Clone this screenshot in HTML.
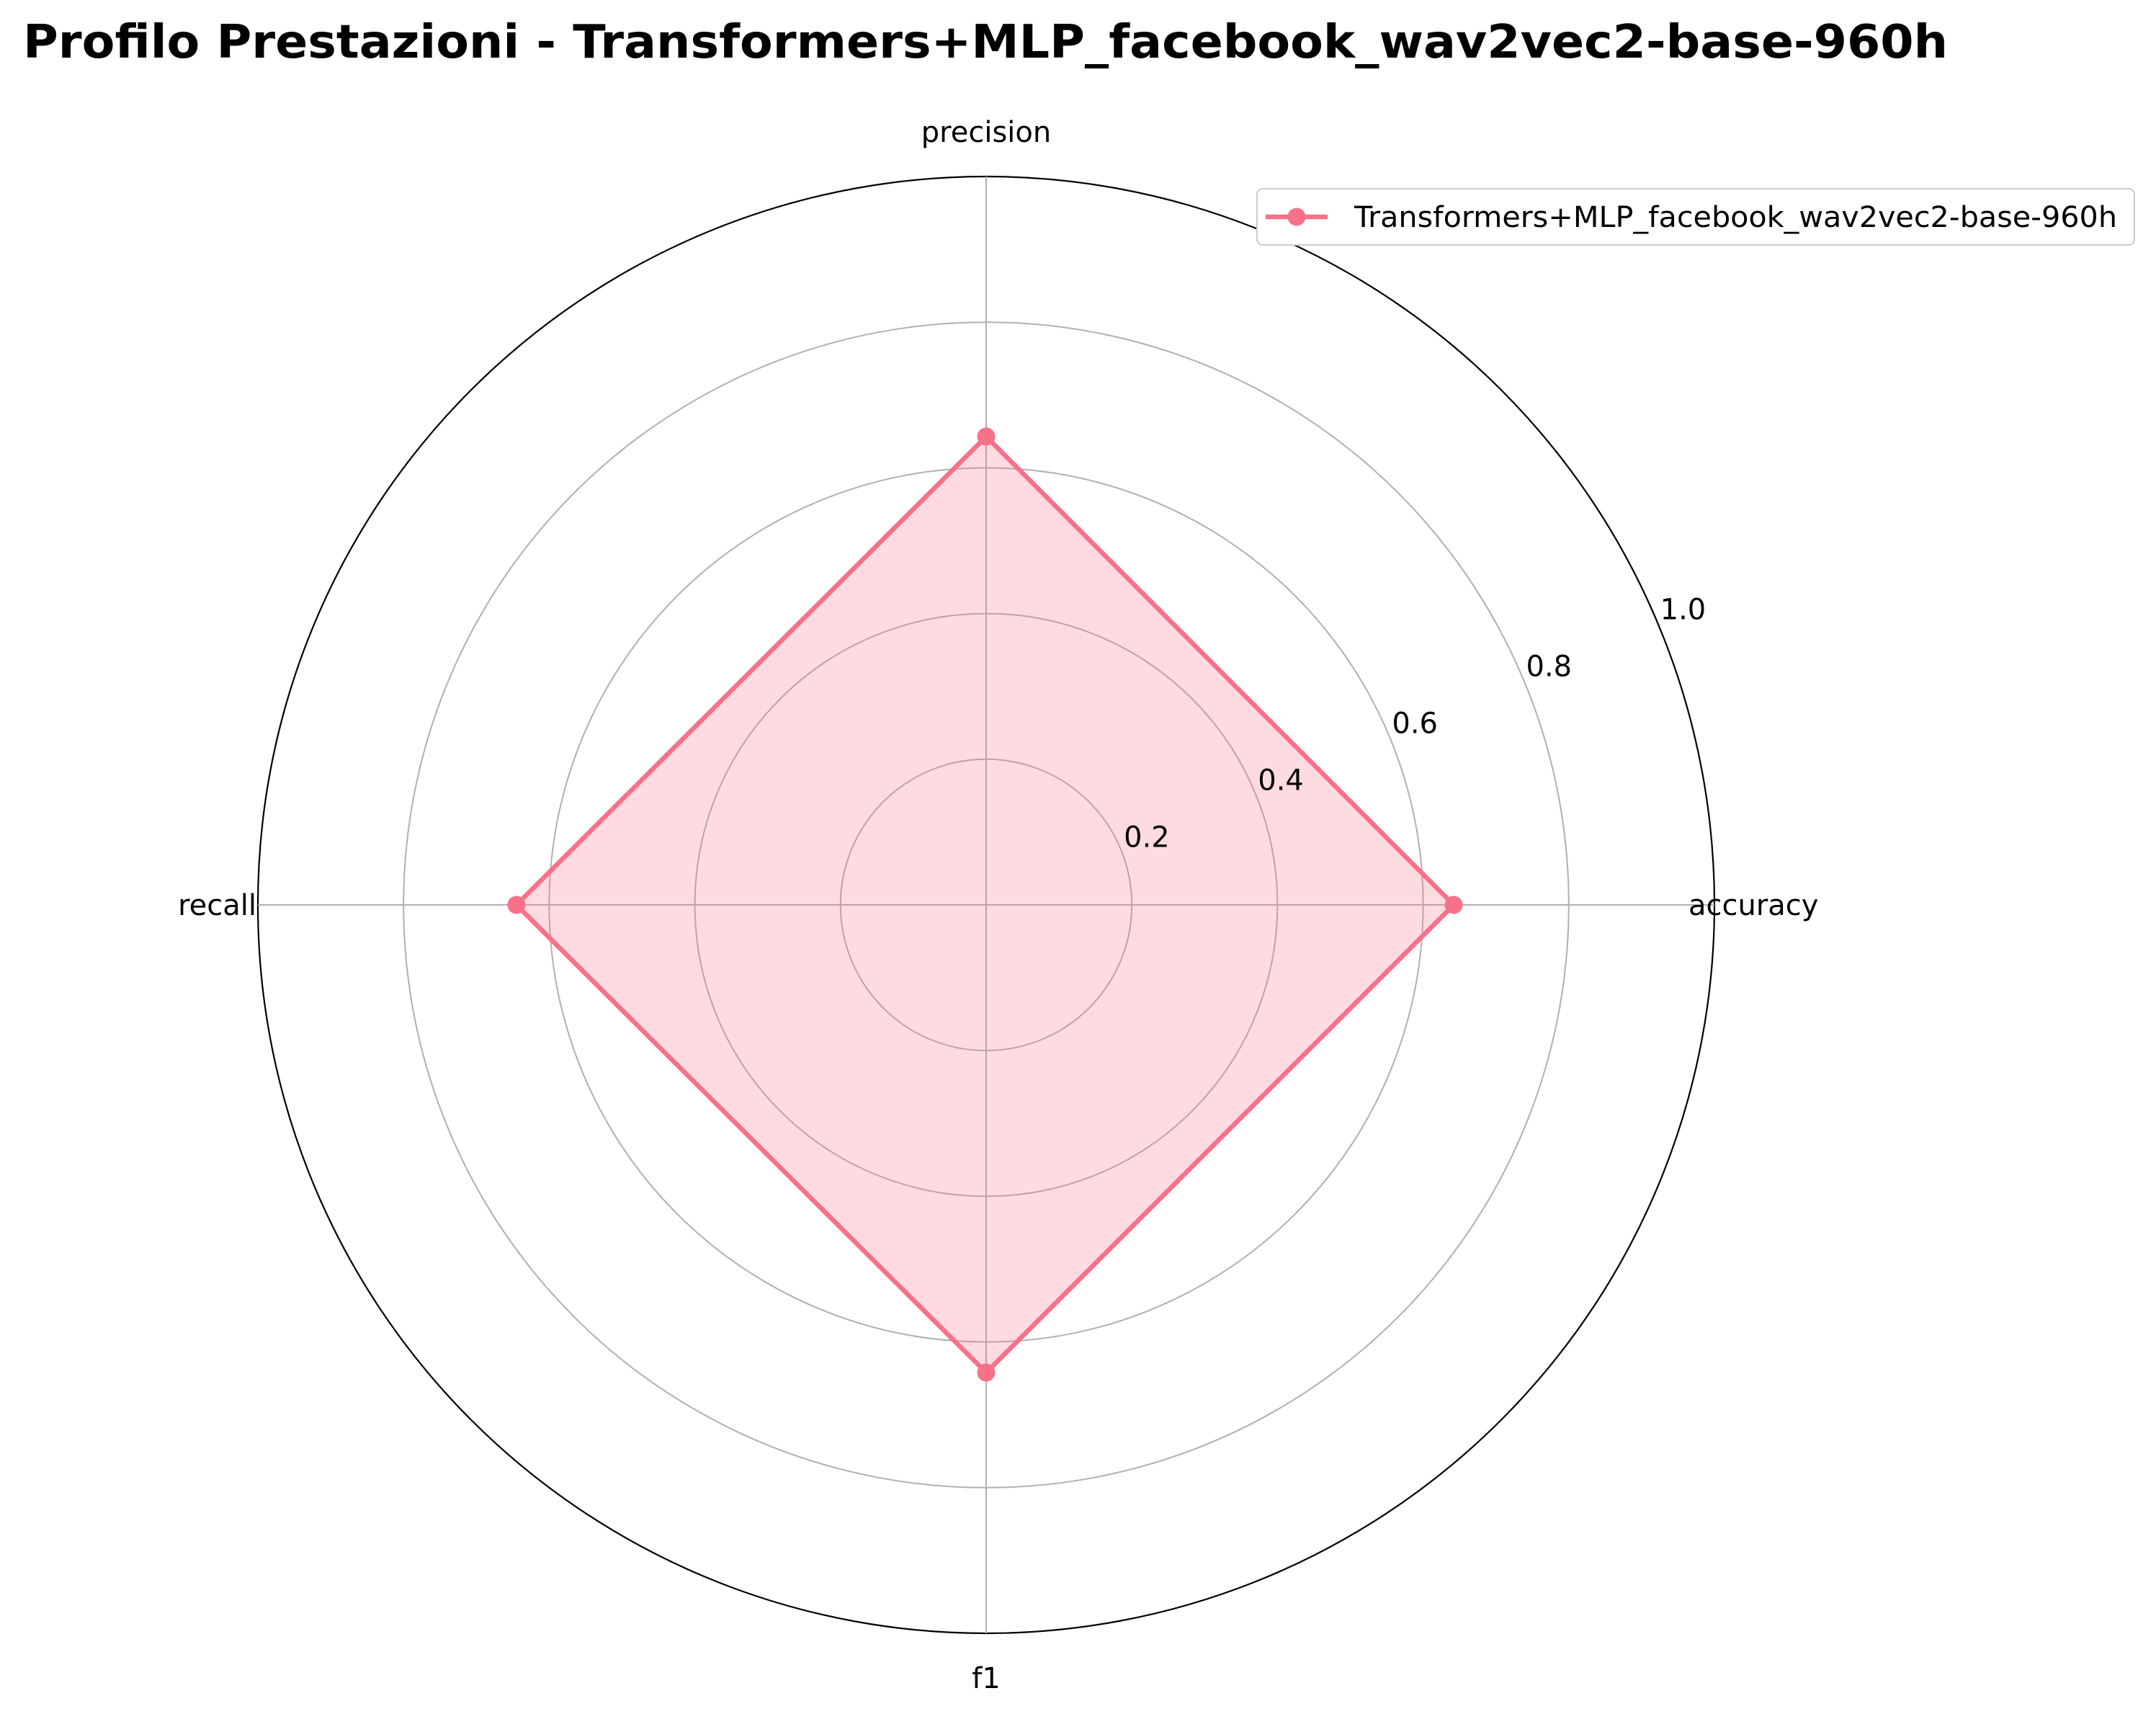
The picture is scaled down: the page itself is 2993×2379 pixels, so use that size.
<!DOCTYPE html>
<html><head><meta charset="utf-8"><style>
html,body{margin:0;padding:0;background:#fff;}
svg text{font-family:"DejaVu Sans","Liberation Sans",sans-serif;}
</style></head><body>
<svg id="chart" width="2993" height="2374" viewBox="0 0 2993 2374" xmlns="http://www.w3.org/2000/svg">
<rect width="2993" height="2374" fill="#fff"/>
<text x="32" y="80" font-size="64" font-weight="bold" fill="#000" textLength="2672" lengthAdjust="spacingAndGlyphs">Profilo Prestazioni - Transformers+MLP_facebook_wav2vec2-base-960h</text>
<g id="grid"></g>
<g id="series"></g>
<g id="labels"></g>
<g>
<rect x="1745" y="262" width="1218" height="78" rx="8" fill="#fff" stroke="#ccc" stroke-width="2"/>
<line x1="1757" y1="301" x2="1843" y2="301" stroke="#f77189" stroke-width="6.5"/>
<circle cx="1800" cy="301" r="12.5" fill="#f77189"/>
<text x="1880" y="315" font-size="40" fill="#000" textLength="1059" lengthAdjust="spacingAndGlyphs">Transformers+MLP_facebook_wav2vec2-base-960h</text>
</g>
</svg>
<script>
const categories=["accuracy","precision","recall","f1"];
const values=[0.642,0.643,0.645,0.642];
const ticks=[0.2,0.4,0.6,0.8,1.0];
const tickLabels=["0.2","0.4","0.6","0.8","1.0"];
const CX=1369,CY=1256,R=1011,NS="http://www.w3.org/2000/svg";
function ang(i){return i*2*Math.PI/categories.length;}
function px(v,a){return CX+v*R*Math.cos(a);}
function py(v,a){return CY-v*R*Math.sin(a);}
function mk(t,at,p){const e=document.createElementNS(NS,t);for(const k in at)e.setAttribute(k,at[k]);p.appendChild(e);return e;}
const g=document.getElementById('grid'),s=document.getElementById('series'),l=document.getElementById('labels');
ticks.forEach((t,i)=>{
 const c=mk('circle',{cx:CX,cy:CY,r:t*R,fill:'none',stroke:t===1?'#000':'#b0b0b0','stroke-width':t===1?2.2:2},g);
 
 
 const a=23*Math.PI/180,rr=t*R+40;
 const tx=mk('text',{x:CX+rr*Math.cos(a),y:CY-rr*Math.sin(a)+14,'font-size':40,'text-anchor':'middle',fill:'#000'},l);
 tx.textContent=tickLabels[i];
 
 
});
categories.forEach((c,i)=>{
 const a=ang(i);
 const ln=mk('line',{x1:CX,y1:CY,x2:px(1,a),y2:py(1,a),stroke:'#b0b0b0','stroke-width':2},g);
 
 
 const cs=Math.cos(a),sn=Math.sin(a);
 let x=px(1,a),y=py(1,a)+14,anc='middle';
 if(cs>0.5){x+=-36;anc='start';} else if(cs<-0.5){x+=-2;anc='end';}
 if(sn>0.5)y-=62; if(sn<-0.5)y+=62;
 const tx=mk('text',{x:x,y:y,'font-size':40,'text-anchor':anc,fill:'#000'},l);
 tx.textContent=c;
 
 
});
const pts=values.map((v,i)=>px(v,ang(i))+','+py(v,ang(i))).join(' ');
const poly=mk('polygon',{points:pts,fill:'#f77189','fill-opacity':0.25,stroke:'#f77189','stroke-width':6.5,'stroke-linejoin':'miter'},s);


values.forEach((v,i)=>{
 const c=mk('circle',{cx:px(v,ang(i)),cy:py(v,ang(i)),r:12.5,fill:'#f77189'},s);
 
 
});
</script>
</body></html>
